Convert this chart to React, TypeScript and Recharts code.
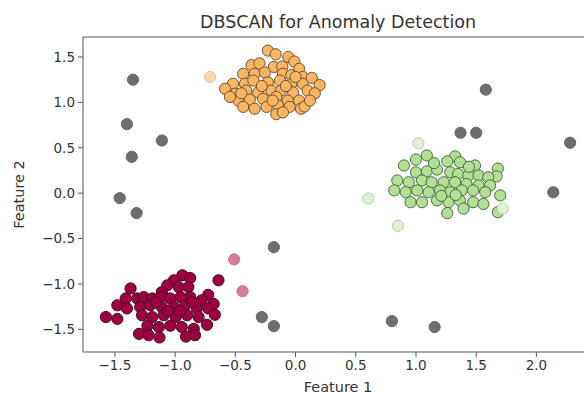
import React from "react";
import {
  ScatterChart,
  Scatter,
  XAxis,
  YAxis,
  ReferenceLine,
  Label,
} from "recharts";

// [x, y] pairs
const clusterOrange: [number, number][] = [
  [-0.23, 1.57], [-0.165, 1.53], [-0.06, 1.5], [-0.01, 1.45], [-0.365, 1.41],
  [-0.3, 1.43], [-0.18, 1.39], [-0.11, 1.395], [0.03, 1.37], [-0.435, 1.315],
  [-0.34, 1.315], [-0.255, 1.33], [-0.105, 1.315], [-0.035, 1.3], [0.06, 1.28],
  [-0.52, 1.205], [-0.42, 1.205], [-0.35, 1.24], [-0.23, 1.22], [-0.13, 1.24],
  [-0.035, 1.205], [0.06, 1.205], [-0.5, 1.095], [-0.41, 1.13], [-0.31, 1.11],
  [-0.2, 1.13], [-0.12, 1.13], [-0.02, 1.11], [-0.475, 1.02], [-0.38, 1.03],
  [-0.27, 1.04], [-0.16, 1.06], [-0.065, 1.02], [0.03, 1.02], [-0.435, 0.95],
  [-0.34, 0.93], [-0.24, 0.95], [-0.145, 0.965], [-0.05, 0.95], [0.045, 0.93],
  [-0.16, 0.87], [-0.105, 0.89], [0.135, 1.27], [0.1, 1.13], [0.2, 1.19],
  [0.075, 0.955], [-0.585, 1.15], [-0.545, 1.06], [0.16, 1.1], [-0.28, 1.18],
  [-0.08, 1.18], [-0.19, 1.02], [0.0, 1.28], [-0.45, 1.1], [0.12, 1.02],
];

const clusterGreen: [number, number][] = [
  [1.09, 0.415], [1.0, 0.37], [0.9, 0.305], [1.325, 0.405], [1.365, 0.34],
  [1.26, 0.35], [1.49, 0.305], [1.68, 0.27], [1.67, 0.185], [1.0, 0.23],
  [1.09, 0.24], [1.175, 0.26], [1.285, 0.23], [1.35, 0.21], [1.435, 0.195],
  [1.52, 0.195], [1.6, 0.175], [0.845, 0.14], [0.94, 0.12], [1.05, 0.14],
  [1.13, 0.12], [1.23, 0.12], [1.325, 0.12], [1.42, 0.1], [1.52, 0.085],
  [1.615, 0.085], [0.82, 0.03], [0.915, 0.01], [1.01, 0.03], [1.105, 0.01],
  [1.2, 0.03], [1.285, 0.01], [1.38, 0.03], [1.475, 0.03], [1.575, 0.01],
  [0.955, -0.1], [1.05, -0.1], [1.175, -0.08], [1.27, -0.1], [1.365, -0.08],
  [1.475, -0.1], [1.56, -0.12], [1.7, -0.025], [1.395, -0.17], [1.68, -0.21],
  [1.26, -0.22], [1.15, 0.33], [1.44, 0.29], [1.21, -0.03], [1.33, -0.02],
];

const clusterCrimson: [number, number][] = [
  [-0.64, -0.96], [-0.94, -0.905], [-0.875, -0.935], [-1.01, -0.96], [-1.065, -1.015],
  [-0.97, -1.035], [-0.89, -1.035], [-1.37, -1.05], [-1.11, -1.09], [-0.875, -1.145],
  [-0.725, -1.12], [-1.41, -1.16], [-1.315, -1.16], [-1.26, -1.145], [-1.19, -1.16],
  [-1.12, -1.145], [-1.04, -1.16], [-0.955, -1.145], [-0.78, -1.18], [-0.68, -1.22],
  [-1.48, -1.235], [-1.4, -1.27], [-1.29, -1.255], [-1.205, -1.235], [-1.11, -1.255],
  [-1.01, -1.255], [-0.915, -1.235], [-0.82, -1.27], [-0.725, -1.27], [-0.67, -1.34],
  [-1.575, -1.365], [-1.48, -1.385], [-1.275, -1.345], [-1.19, -1.365], [-1.095, -1.345],
  [-0.995, -1.365], [-0.9, -1.345], [-0.805, -1.365], [-1.23, -1.46], [-1.135, -1.475],
  [-1.04, -1.46], [-0.945, -1.475], [-0.845, -1.495], [-0.735, -1.45], [-1.3, -1.55],
  [-1.22, -1.565], [-1.13, -1.59], [-0.91, -1.58], [-0.835, -1.565], [-1.06, -1.3],
  [-0.96, -1.3], [-1.16, -1.2], [-0.86, -1.2],
];

// non-core points drawn faded
const edgeOrange: [number, number][] = [[-0.71, 1.28]];
const edgeGreen: [number, number][] = [
  [1.02, 0.55], [0.605, -0.06], [0.85, -0.36], [1.72, -0.17],
];
const edgeCrimson: [number, number][] = [[-0.51, -0.73], [-0.44, -1.08]];

const noise: [number, number][] = [
  [-1.35, 1.25], [1.58, 1.14], [-1.4, 0.76], [-1.11, 0.58], [-1.36, 0.4],
  [-1.46, -0.055], [-1.32, -0.22], [1.37, 0.665], [1.5, 0.665], [2.28, 0.555],
  [2.14, 0.01], [-0.18, -0.595], [-0.28, -1.365], [-0.18, -1.465], [0.8, -1.41],
  [1.155, -1.475],
];

const xTicks = [-1.5, -1.0, -0.5, 0.0, 0.5, 1.0, 1.5, 2.0];
const yTicks = [-1.5, -1.0, -0.5, 0.0, 0.5, 1.0, 1.5];
const X_DOMAIN: [number, number] = [-1.765, 2.47];
const Y_DOMAIN: [number, number] = [-1.75, 1.72];

const toRows = (pts: [number, number][]) => pts.map(([x, y]) => ({ x, y }));

const fmt = (v: number) => v.toFixed(1).replace("-", "\u2212");

const dot = (fill: string, stroke: string) => (p: any) =>
  (
    <circle
      cx={p.cx}
      cy={p.cy}
      r={5.6}
      fill={fill}
      stroke={stroke}
      strokeWidth={1}
    />
  );

const tickStyle = { fontSize: 13.5, fill: "#333", fontFamily: "DejaVu Sans" };

export default function App() {
  return (
    <div
      style={{
        position: "absolute",
        left: 0,
        top: 0,
        width: 584,
        height: 394,
        overflow: "hidden",
        background: "#fff",
        fontFamily: "DejaVu Sans",
      }}
    >
      <div
        style={{
          position: "absolute",
          left: 83,
          width: 510,
          top: 11,
          textAlign: "center",
          fontSize: 17.5,
          lineHeight: "22px",
          color: "#333",
        }}
      >
        DBSCAN for Anomaly Detection
      </div>
      <ScatterChart
        width={620}
        height={394}
        margin={{ top: 37, right: 27, bottom: 0, left: 0 }}
      >
        <XAxis
          type="number"
          dataKey="x"
          domain={X_DOMAIN}
          ticks={xTicks}
          allowDataOverflow
          tickFormatter={fmt}
          height={42}
          stroke="#555"
          tickSize={5}
          tickMargin={3}
          tick={tickStyle}
        >
          <Label
            value="Feature 1"
            position="insideBottom"
            offset={2}
            style={{ fontSize: 14.5, fill: "#333" }}
          />
        </XAxis>
        <YAxis
          type="number"
          dataKey="y"
          domain={Y_DOMAIN}
          ticks={yTicks}
          allowDataOverflow
          tickFormatter={fmt}
          width={83}
          stroke="#555"
          tickSize={5}
          tickMargin={3}
          tick={tickStyle}
        >
          <Label
            content={({ viewBox }: any) => {
              const cy = viewBox.y + viewBox.height / 2;
              return (
                <text
                  x={19}
                  y={cy}
                  transform={`rotate(-90 19 ${cy})`}
                  textAnchor="middle"
                  dominantBaseline="central"
                  fontSize={14.5}
                  fill="#333"
                >
                  Feature 2
                </text>
              );
            }}
          />
        </YAxis>
        <ReferenceLine y={Y_DOMAIN[1]} stroke="#555" strokeWidth={1} />
        <ReferenceLine x={X_DOMAIN[1]} stroke="#555" strokeWidth={1} />
        <Scatter
          data={toRows(clusterCrimson)}
          isAnimationActive={false}
          shape={dot("#9e0142", "#4a0a20")}
        />
        <Scatter
          data={toRows(clusterOrange)}
          isAnimationActive={false}
          shape={dot("#fbb462", "#6b5532")}
        />
        <Scatter
          data={toRows(clusterGreen)}
          isAnimationActive={false}
          shape={dot("#b3df95", "#4d6b42")}
        />
        <Scatter
          data={toRows(edgeCrimson)}
          isAnimationActive={false}
          shape={dot("#d67f99", "#c9728c")}
        />
        <Scatter
          data={toRows(edgeOrange)}
          isAnimationActive={false}
          shape={dot("#f8d7ad", "#e8c495")}
        />
        <Scatter
          data={toRows(edgeGreen)}
          isAnimationActive={false}
          shape={dot("#e1f2d4", "#b5cfa8")}
        />
        <Scatter
          data={toRows(noise)}
          isAnimationActive={false}
          shape={dot("#6e6e6e", "#666")}
        />
      </ScatterChart>
    </div>
  );
}
